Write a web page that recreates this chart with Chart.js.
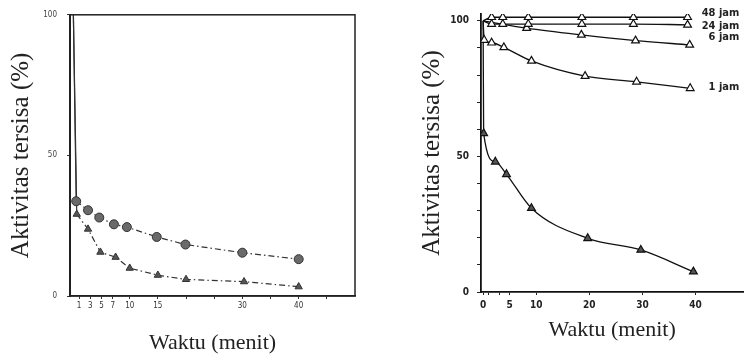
<!DOCTYPE html>
<html>
<head>
<meta charset="utf-8">
<script src="https://cdn.jsdelivr.net/npm/chart.js@4.4.0/dist/chart.umd.min.js"></script>
<style>
html, body { margin: 0; padding: 0; background: #fff; }
#wrap { position: relative; width: 749px; height: 355px; overflow: hidden; }
#kiri { position: absolute; left: 0; top: 0; }
#kanan { position: absolute; left: 370px; top: 0; }
</style>
</head>
<body>
<div id="wrap">
<canvas id="kiri" width="370" height="355"></canvas>
<canvas id="kanan" width="379" height="355"></canvas>
</div>
<script>
// grafik kiri
const kiriWaktuBulat = [0, 0.5, 2.6, 4.6, 7.2, 9.5, 14.8, 19.9, 30, 40];
const kiriBulat = [100, 33.7, 30.5, 27.9, 25.5, 24.5, 21, 18.3, 15.4, 13.1];
const kiriWaktuSegitiga = [0, 0.6, 2.6, 4.8, 7.5, 10, 15, 20, 30.3, 40];
const kiriSegitiga = [100, 29.1, 23.8, 15.6, 13.8, 9.9, 7.4, 5.9, 5.1, 3.3];
const kiriTickX = [1, 3, 5, 7, 10, 15, 20, 25, 30, 35, 40, 45];
const kiriLabelX = [1, 3, 5, 7, 10, 15, 30, 40];
const kiriTickY = [0, 50, 100];

// grafik kanan
const waktu48 = [0, 1.6, 3.7, 8.5, 18.6, 28.3, 38.5];
const jam48 = [100, 101.3, 101.3, 101.3, 101.3, 101.3, 101.3];
const waktu24 = [0, 1.6, 3.7, 8.5, 18.6, 28.3, 38.5];
const jam24 = [100, 98.8, 98.8, 98.8, 98.8, 98.8, 98.5];
const waktu6 = [0, 8.2, 18.5, 28.7, 38.9];
const jam6 = [100, 97.3, 94.8, 92.7, 91.1];
const waktu1 = [0, 0.2, 1.6, 3.9, 9.1, 19.2, 28.9, 39];
const jam1 = [100, 92.9, 91.9, 90.2, 85.2, 79.6, 77.5, 75.1];
const waktu0 = [0, 0.1, 2.3, 4.4, 9.1, 19.7, 29.7, 39.6];
const jam0 = [100, 58.5, 48.0, 43.4, 30.9, 19.8, 15.5, 7.5];
const kananTickX = [0, 1, 3, 5, 10, 20, 30, 40];
const kananLabelX = [0, 5, 10, 20, 30, 40];
const kananTickY = [0, 10, 20, 30, 40, 50, 60, 70, 80, 90, 100];
const kananLabelY = [0, 50, 100];
const labelJam = ['48 jam', '24 jam', '6 jam', '1 jam'];

const serif = "'Liberation Serif', 'Times New Roman', serif";
const sempit = "'DejaVu Sans Condensed', 'Liberation Sans Narrow', 'Liberation Sans', sans-serif";
const titik = (xs, ys) => xs.map((x, i) => ({ x: x, y: ys[i] }));
const tanpaAwal = r => ctx => ctx.dataIndex === 0 ? 0 : r;

// bingkai kotak grafik kiri
const bingkai = {
    id: 'bingkai',
    afterDraw(chart) {
        const { ctx, chartArea: a } = chart;
        ctx.save();
        ctx.strokeStyle = '#222';
        ctx.lineWidth = 1.5;
        ctx.strokeRect(a.left, a.top, a.right - a.left, a.bottom - a.top);
        ctx.restore();
    }
};

// label "48 jam" dst di ujung kanan garis
const labelKanan = {
    id: 'labelKanan',
    afterDatasetsDraw(chart) {
        const { ctx, chartArea: a } = chart;
        const geser = [-4, 1, -8, -1];
        ctx.save();
        ctx.font = 'bold 11px ' + sempit;
        ctx.fillStyle = '#222';
        ctx.textAlign = 'right';
        ctx.textBaseline = 'middle';
        labelJam.forEach((teks, i) => {
            const data = chart.data.datasets[i].data;
            const akhir = data[data.length - 1];
            const y = chart.scales.y.getPixelForValue(akhir.y) + geser[i];
            ctx.fillText(teks, a.right - 4, y);
        });
        ctx.restore();
    }
};

const dashDot = [6, 3, 1.5, 3];

new Chart(document.getElementById('kiri').getContext('2d'), {
    type: 'line',
    data: {
        datasets: [{
            data: titik(kiriWaktuBulat, kiriBulat),
            borderColor: '#333',
            borderWidth: 1.2,
            segment: { borderDash: ctx => ctx.p0DataIndex === 0 ? [] : dashDot },
            pointStyle: 'circle',
            pointRadius: tanpaAwal(4.5),
            pointBackgroundColor: '#6a6a6a',
            pointBorderColor: '#333',
            pointBorderWidth: 1,
            tension: 0
        }, {
            data: titik(kiriWaktuSegitiga, kiriSegitiga),
            borderColor: '#333',
            borderWidth: 1.2,
            segment: { borderDash: ctx => ctx.p0DataIndex === 0 ? [] : dashDot },
            pointStyle: 'triangle',
            pointRadius: tanpaAwal(4.2),
            pointBackgroundColor: '#555',
            pointBorderColor: '#333',
            pointBorderWidth: 1,
            tension: 0
        }]
    },
    options: {
        responsive: false,
        animation: false,
        layout: { padding: { left: 0, top: 14, right: 15, bottom: 0 } },
        plugins: { legend: { display: false }, tooltip: { enabled: false } },
        scales: {
            x: {
                type: 'linear',
                min: -0.6,
                max: 50,
                afterBuildTicks: s => { s.ticks = kiriTickX.map(v => ({ value: v })); },
                afterFit: s => { s.height = 59; },
                grid: { drawOnChartArea: false, drawTicks: true, tickLength: 3, color: '#333' },
                border: { color: '#222', width: 1.5 },
                ticks: {
                    autoSkip: false,
                    maxRotation: 0,
                    padding: 2,
                    color: '#333',
                    font: { size: 8, family: sempit },
                    callback: v => kiriLabelX.includes(v) ? String(v) : ''
                },
                title: {
                    display: true,
                    text: 'Waktu (menit)',
                    color: '#222',
                    font: { size: 22, family: serif, lineHeight: 1 },
                    padding: { top: 0, bottom: 1 }
                }
            },
            y: {
                min: 0,
                max: 100,
                afterBuildTicks: s => { s.ticks = kiriTickY.map(v => ({ value: v })); },
                afterFit: s => { s.width = 70; },
                grid: { drawOnChartArea: false, drawTicks: true, tickLength: 3, color: '#333' },
                border: { color: '#222', width: 2 },
                ticks: {
                    padding: 10,
                    color: '#444',
                    font: { size: 8, family: sempit }
                },
                title: {
                    display: true,
                    text: 'Aktivitas tersisa (%)',
                    color: '#222',
                    font: { size: 25, family: serif, lineHeight: 1 },
                    padding: { top: 8.5, bottom: 0 }
                }
            }
        }
    },
    plugins: [bingkai]
});

const garisKanan = (xs, ys, isi) => ({
    data: titik(xs, ys),
    borderColor: '#111',
    borderWidth: 1.3,
    pointStyle: 'triangle',
    pointRadius: tanpaAwal(4.5),
    pointBackgroundColor: isi,
    pointBorderColor: '#111',
    pointBorderWidth: 1.2,
    cubicInterpolationMode: 'monotone'
});

new Chart(document.getElementById('kanan').getContext('2d'), {
    type: 'line',
    data: {
        datasets: [
            garisKanan(waktu48, jam48, '#fff'),
            garisKanan(waktu24, jam24, '#fff'),
            garisKanan(waktu6, jam6, '#fff'),
            garisKanan(waktu1, jam1, '#fff'),
            garisKanan(waktu0, jam0, '#555')
        ]
    },
    options: {
        responsive: false,
        animation: false,
        layout: { padding: { left: 0, top: 14, right: 0, bottom: 0 } },
        plugins: { legend: { display: false }, tooltip: { enabled: false } },
        scales: {
            x: {
                type: 'linear',
                min: -0.4,
                max: 49,
                afterBuildTicks: s => { s.ticks = kananTickX.map(v => ({ value: v })); },
                afterFit: s => { s.height = 63; },
                grid: { drawOnChartArea: false, drawTicks: true, tickLength: 3, color: '#222' },
                border: { color: '#111', width: 1.8 },
                ticks: {
                    autoSkip: false,
                    maxRotation: 0,
                    padding: 4,
                    color: '#222',
                    font: { size: 10, weight: 'bold', family: sempit },
                    callback: v => kananLabelX.includes(v) ? String(v) : ''
                },
                title: {
                    display: true,
                    text: 'Waktu (menit)',
                    color: '#222',
                    font: { size: 22, family: serif, lineHeight: 1 },
                    padding: { top: 0, bottom: 14 }
                }
            },
            y: {
                min: 0,
                max: 102.5,
                afterBuildTicks: s => { s.ticks = kananTickY.map(v => ({ value: v })); },
                afterFit: s => { s.width = 111; },
                grid: { drawOnChartArea: false, drawTicks: true, tickLength: 4, color: '#222' },
                border: { color: '#111', width: 1.8 },
                ticks: {
                    padding: 8,
                    color: '#222',
                    font: { size: 10, weight: 'bold', family: sempit },
                    callback: v => kananLabelY.includes(v) ? String(v) : ''
                },
                title: {
                    display: true,
                    text: 'Aktivitas tersisa (%)',
                    color: '#222',
                    font: { size: 25, family: serif, lineHeight: 1 },
                    padding: { top: 49.5, bottom: 0 }
                }
            }
        }
    },
    plugins: [labelKanan]
});
</script>
</body>
</html>
